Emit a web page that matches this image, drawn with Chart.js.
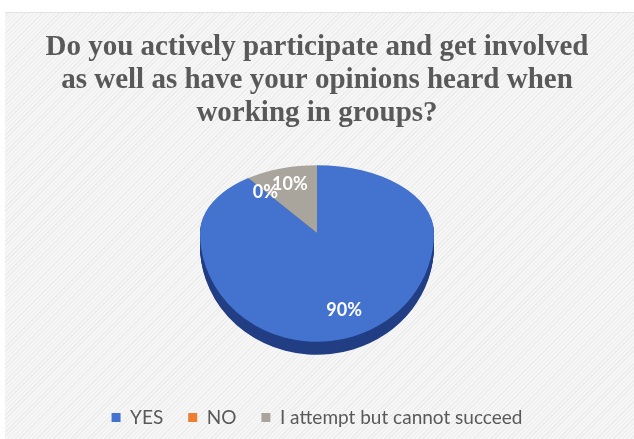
<!DOCTYPE html>
<html>
<head>
<meta charset="utf-8">
<script src="https://cdn.jsdelivr.net/npm/chart.js@4.4.0/dist/chart.umd.min.js"></script>
<style>
  html, body { margin: 0; padding: 0; background: #fff; }
  #wrap { position: relative; width: 634px; height: 439px; overflow: hidden; }
  #panel {
    position: absolute; left: 5px; top: 12px; right: 0; bottom: 0;
    background-color: #f3f3f3;
    background-image: repeating-linear-gradient(135deg, #f6f6f6 0px, #f6f6f6 2px, #ececec 2px, #ececec 3px);
    border-top: 1px solid #e2e2e2;
  }
  #myChart { position: absolute; left: 0; top: 0; }
</style>
</head>
<body>
<div id="wrap">
  <div id="panel"></div>
  <canvas id="myChart" width="634" height="439"></canvas>
</div>
<script>
var titulo = [
  'Do you actively participate and get involved',
  'as well as have your opinions heard when',
  'working in groups?'
];
var categorias = ['YES', 'NO', 'I attempt but cannot succeed'];
var valores = [90, 0, 10];

var cores = {
  blue: '#4473cf',
  orange: '#ed7d31',
  gray: '#a9a59d'
};
var corLado = '#223e84';

// fake excel 3d pie: back half squashed more than front half, plus a dark rim
var apiceY = 233;
var escalaCima = 0.58;
var escalaBaixo = 0.93;
var profundidade = 13;

function desenhaMetades(chart, arc, cb) {
  var ctx = chart.ctx;
  var W = chart.width, H = chart.height;
  ctx.save();
  ctx.beginPath();
  ctx.rect(0, 0, W, apiceY);
  ctx.clip();
  ctx.translate(arc.x, apiceY);
  ctx.scale(1, escalaCima);
  ctx.translate(-arc.x, -arc.y);
  cb(ctx);
  ctx.restore();

  ctx.save();
  ctx.beginPath();
  ctx.rect(0, apiceY, W, H - apiceY);
  ctx.clip();
  ctx.translate(arc.x, apiceY);
  ctx.scale(1, escalaBaixo);
  ctx.translate(-arc.x, -arc.y);
  cb(ctx);
  ctx.restore();
}

var pie3d = {
  id: 'pie3d',
  beforeDatasetsDraw(chart) {
    var ctx = chart.ctx;
    var arcs = chart.getDatasetMeta(0).data;
    // rim
    for (var k = profundidade; k >= 1; k--) {
      ctx.save();
      ctx.translate(0, k);
      desenhaMetades(chart, arcs[0], c => {
        arcs.forEach(a => {
          var bg = a.options.backgroundColor;
          a.options.backgroundColor = corLado;
          a.draw(c);
          a.options.backgroundColor = bg;
        });
      });
      ctx.restore();
    }
    // top face
    desenhaMetades(chart, arcs[0], c => {
      arcs.forEach(a => a.draw(c));
    });
    return false;
  },
  afterDraw(chart) {
    var ctx = chart.ctx;
    var arcs = chart.getDatasetMeta(0).data;
    var total = valores.reduce((s, v) => s + v, 0);
    ctx.save();
    ctx.fillStyle = '#ffffff';
    ctx.font = 'bold 18px Lato';
    ctx.textAlign = 'center';
    ctx.textBaseline = 'middle';
    arcs.forEach((a, i) => {
      var meio = (a.startAngle + a.endAngle) / 2;
      var r = a.outerRadius * 0.75;
      var x = a.x + Math.cos(meio) * r;
      var dy = Math.sin(meio) * r;
      var y = apiceY + dy * (dy < 0 ? escalaCima : escalaBaixo);
      ctx.fillText(Math.round(valores[i] / total * 100) + '%', x, y);
    });
    ctx.restore();
  }
};

const ctx = document.getElementById('myChart');

const chart = new Chart(ctx, {
  type: 'pie',
  data: {
    labels: categorias,
    datasets: [{
      data: valores,
      backgroundColor: [cores.blue, cores.orange, cores.gray],
      borderWidth: 0,
      radius: 117,
      clip: false
    }]
  },
  options: {
    responsive: false,
    devicePixelRatio: 1,
    animation: false,
    events: [],
    layout: {
      padding: { top: 0, bottom: 2, left: 0, right: 0 }
    },
    plugins: {
      title: {
        display: true,
        text: titulo,
        color: '#595959',
        font: { family: 'Liberation Serif', size: 29, weight: 'bold', lineHeight: 1.14 },
        padding: { top: 31, bottom: 10 }
      },
      legend: {
        position: 'bottom',
        labels: {
          color: '#595959',
          font: { family: 'Lato', size: 19 },
          boxWidth: 9,
          boxHeight: 9,
          padding: 25
        }
      },
      tooltip: { enabled: false }
    }
  },
  plugins: [pie3d]
});
</script>
</body>
</html>
